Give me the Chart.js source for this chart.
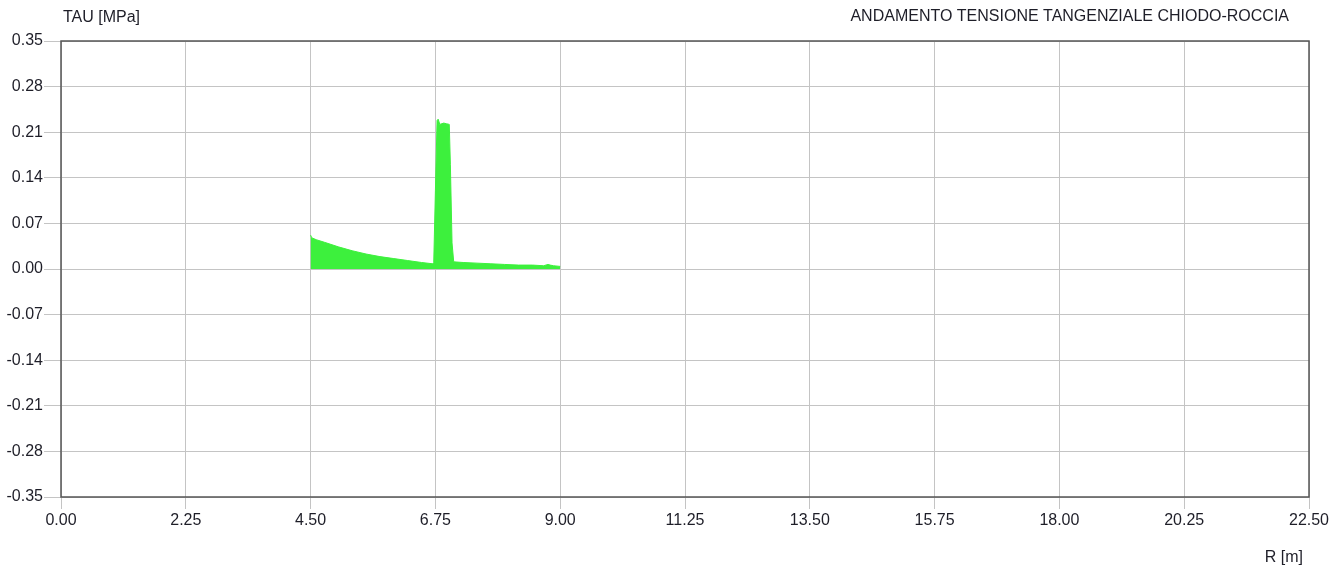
<!DOCTYPE html>
<html>
<head>
<meta charset="utf-8">
<script src="https://cdn.jsdelivr.net/npm/chart.js@4"></script>
<style>
  body { margin: 0; background: #fff; }
  #chart { display: block; }
</style>
</head>
<body>
<canvas id="chart" width="1342" height="571"></canvas>
<script>
// R [m] positions along the anchor and the shear stress
const rValues = [4.50, 4.52, 4.60, 4.75, 5.00, 5.25, 5.50, 5.75, 6.00, 6.25, 6.50, 6.70,
                 6.72, 6.75, 6.78, 6.80, 6.83, 6.90, 6.95, 7.00, 7.02, 7.05, 7.08,
                 7.25, 7.50, 7.75, 8.00, 8.25, 8.50, 8.70, 8.78, 8.82, 8.88, 9.00];
const tauValues = [0.052, 0.048, 0.045, 0.041, 0.034, 0.028, 0.023, 0.019, 0.016, 0.013, 0.010, 0.008,
                   0.010, 0.120, 0.228, 0.230, 0.222, 0.224, 0.223, 0.222, 0.160, 0.040, 0.011,
                   0.010, 0.009, 0.008, 0.007, 0.006, 0.006, 0.005, 0.007, 0.006, 0.005, 0.004];

const xTicks = [0, 2.25, 4.5, 6.75, 9, 11.25, 13.5, 15.75, 18, 20.25, 22.5];
const yTicks = [-0.35, -0.28, -0.21, -0.14, -0.07, 0, 0.07, 0.14, 0.21, 0.28, 0.35];

const yTitle = 'TAU [MPa]';
const xTitle = 'R [m]';
const chartTitle = 'ANDAMENTO TENSIONE TANGENZIALE CHIODO-ROCCIA';

const points = rValues.map((r, i) => ({ x: r, y: tauValues[i] }));

const FONT = 'Arial, "Liberation Sans", sans-serif';
const TEXT = '#1e1e28';
const GRID = '#c4c4c4';

const frame = {
  id: 'frame',
  afterDraw(chart) {
    const { ctx, chartArea: a } = chart;
    ctx.save();
    ctx.strokeStyle = '#555';
    ctx.lineWidth = 1.5;
    ctx.strokeRect(a.left, a.top, a.right - a.left, a.bottom - a.top);
    ctx.fillStyle = TEXT;
    ctx.font = '16px ' + FONT;
    ctx.textBaseline = 'middle';
    ctx.textAlign = 'left';
    ctx.fillText(yTitle, 63, 18);
    ctx.textAlign = 'right';
    ctx.fillText(chartTitle, 1289, 17);
    ctx.fillText(xTitle, 1303, 558);
    ctx.restore();
  }
};

new Chart(document.getElementById('chart'), {
  type: 'line',
  data: {
    datasets: [{
      data: points,
      borderColor: '#3df03d',
      backgroundColor: '#3df03d',
      borderWidth: 1,
      pointRadius: 0,
      tension: 0,
      fill: 'origin'
    }]
  },
  options: {
    responsive: false,
    animation: false,
    layout: { padding: { top: 41, right: 33, left: 0, bottom: 0 } },
    plugins: { legend: { display: false }, tooltip: { enabled: false } },
    scales: {
      x: {
        type: 'linear',
        min: 0,
        max: 22.5,
        afterBuildTicks(scale) { scale.ticks = xTicks.map(v => ({ value: v })); },
        afterFit(scale) { scale.height = 74; },
        grid: { color: GRID, tickColor: GRID, tickLength: 12 },
        border: { display: false },
        ticks: {
          color: TEXT,
          font: { size: 16, family: FONT },
          padding: 2,
          maxRotation: 0,
          callback: v => v.toFixed(2)
        }
      },
      y: {
        min: -0.35,
        max: 0.35,
        afterBuildTicks(scale) { scale.ticks = yTicks.map(v => ({ value: v })); },
        afterFit(scale) { scale.width = 61; },
        grid: { color: GRID, tickColor: GRID, tickLength: 17 },
        border: { display: false },
        ticks: {
          color: TEXT,
          font: { size: 16, family: FONT },
          padding: 1,
          callback: v => v.toFixed(2)
        }
      }
    }
  },
  plugins: [frame]
});
</script>
</body>
</html>
